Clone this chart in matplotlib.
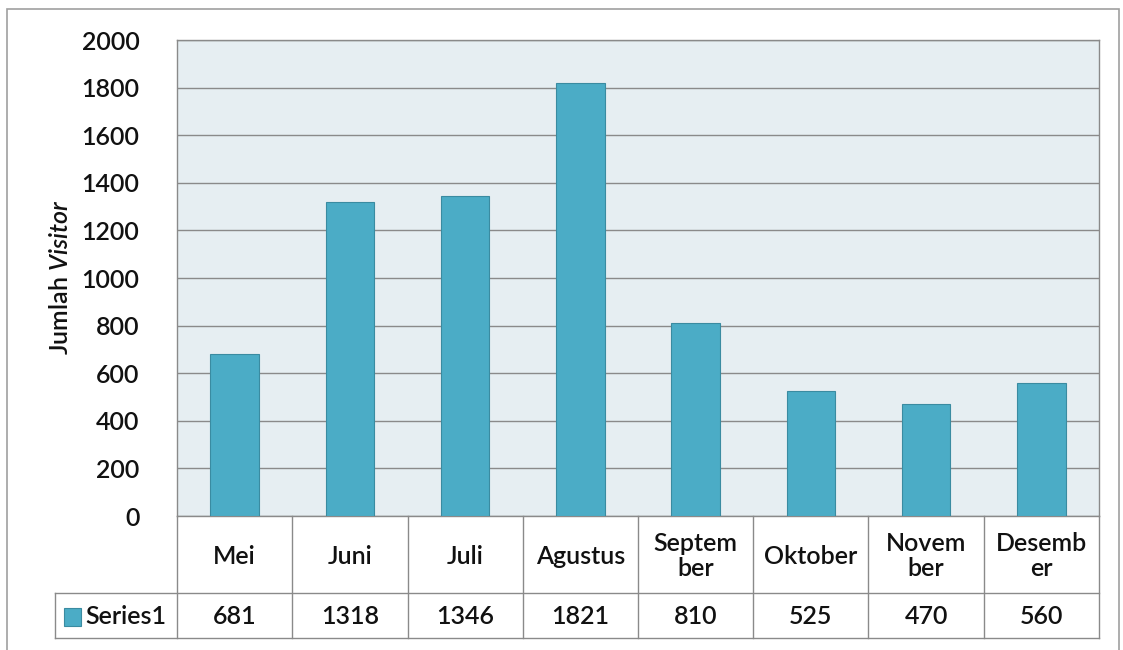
import matplotlib.pyplot as plt
from matplotlib.patches import Rectangle

bulan = ["Mei", "Juni", "Juli", "Agustus", "Septem\nber", "Oktober", "Novem\nber", "Desemb\ner"]
visitor = [681, 1318, 1346, 1821, 810, 525, 470, 560]
yticks = [0, 200, 400, 600, 800, 1000, 1200, 1400, 1600, 1800, 2000]
seriesName = "Series1"

W, H = 1123, 650
barColor = "#4BACC6"
barEdge = "#3A8BA1"
lineColor = "#8A8A8A"
textColor = "#111111"
fs = 18
fw = "semibold"

plt.rcParams["font.family"] = ["Lato", "DejaVu Sans"]
plt.rcParams["mathtext.fontset"] = "custom"
plt.rcParams["mathtext.rm"] = "Lato:semibold"
plt.rcParams["mathtext.it"] = "Lato:italic:semibold"


def pxRect(x0, y0, x1, y1):
    # pixel box (top-left origin) -> figure fraction rect
    return [x0 / W, 1 - y1 / H, (x1 - x0) / W, (y1 - y0) / H]


fig = plt.figure(figsize=(W / 100, H / 100), dpi=100)
fig.add_artist(Rectangle((7 / W, -0.01), 1112 / W, 1.01 - 9 / H, transform=fig.transFigure,
                         fill=False, edgecolor="#A0A0A0", lw=1.2))

# bar chart
ax = fig.add_axes(pxRect(177, 40, 1099, 516))
ax.set_facecolor("#E6EEF2")
ax.bar(range(len(visitor)), visitor, width=0.42, color=barColor, edgecolor=barEdge, lw=0.8, zorder=3)
ax.set_xlim(-0.5, len(visitor) - 0.5)
ax.set_ylim(0, 2000)
ax.set_yticks(yticks)
ax.set_xticks([])
ax.yaxis.grid(True, color=lineColor, lw=1.0, zorder=0)
ax.tick_params(axis="y", length=0, pad=27, labelsize=fs, labelcolor=textColor)
for lbl in ax.get_yticklabels():
    lbl.set_fontweight(fw)
for s in ax.spines.values():
    s.set_color(lineColor)
    s.set_linewidth(1.0)

fig.text(60 / W, 1 - 277 / H, r"Jumlah $\mathit{Visitor}$", rotation=90, ha="center", va="center",
         fontsize=fs, color=textColor, fontweight=fw)

# data table below
colW = (1099 - 177) / len(visitor)
xl = -0.5 - (177 - 55) / colW
tab = fig.add_axes(pxRect(55, 516, 1099, 638))
tab.set_xlim(xl, len(visitor) - 0.5)
tab.set_ylim(0, 122)
tab.axis("off")

for i in range(len(visitor) + 1):
    x = -0.5 + i
    tab.plot([x, x], [0, 122], color=lineColor, lw=1.0, clip_on=False)
tab.plot([xl, xl], [0, 45], color=lineColor, lw=1.0, clip_on=False)
for y in [0, 45]:
    tab.plot([xl, len(visitor) - 0.5], [y, y], color=lineColor, lw=1.0, clip_on=False)

for i, (b, v) in enumerate(zip(bulan, visitor)):
    tab.text(i, 82, b, ha="center", va="center", fontsize=fs, color=textColor, fontweight=fw,
             linespacing=1.15)
    tab.text(i, 21, str(v), ha="center", va="center", fontsize=fs, color=textColor, fontweight=fw)

tab.add_patch(Rectangle((xl + 9 / colW, 12), 17 / colW, 18, facecolor=barColor, edgecolor=barEdge,
                        lw=0.8, clip_on=False))
tab.text(xl + 30 / colW, 21, seriesName, ha="left", va="center", fontsize=fs, color=textColor,
         fontweight=fw)

fig.savefig("out.png", dpi=100, facecolor="white")
